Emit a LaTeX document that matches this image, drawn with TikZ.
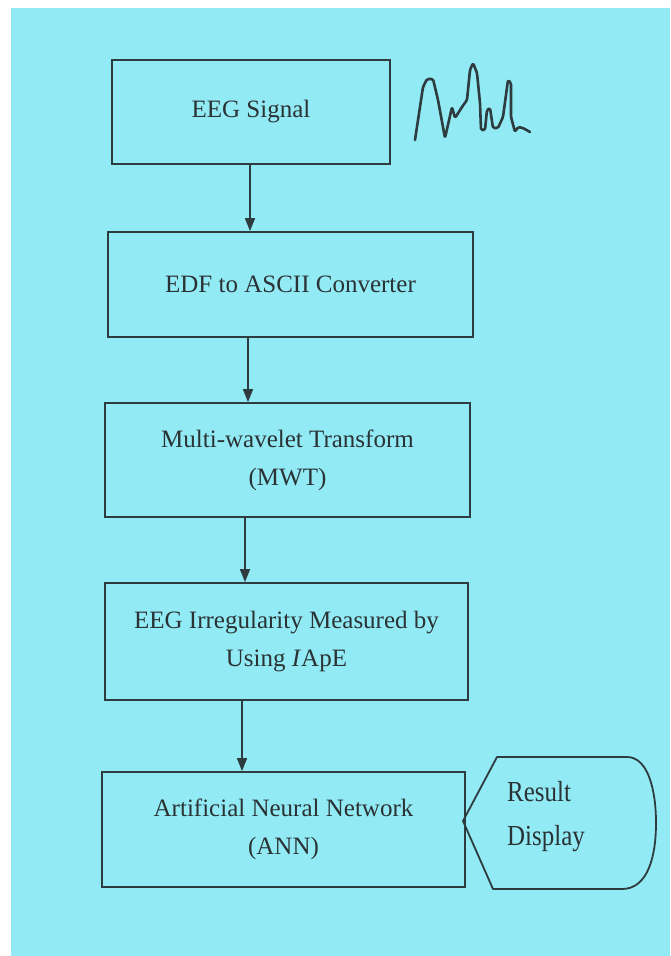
\documentclass[tikz,border=0pt]{standalone}
\usepackage{fontspec}
\setmainfont{Liberation Serif}
\usetikzlibrary{arrows.meta}
\definecolor{paper}{HTML}{92EAF5}
\definecolor{ink}{HTML}{2E3C40}
\definecolor{textink}{HTML}{2A3234}
\begin{document}
\begin{tikzpicture}[x=1pt,y=-1pt,
  stepbox/.style={draw=ink,line width=1.8pt,rectangle,inner sep=0pt,align=center,
    text=textink,font=\fontsize{25}{38}\selectfont},
  flow/.style={draw=ink,line width=1.6pt,-{Triangle[length=13pt,width=10pt]}},
  wave/.style={draw=ink,line width=2.6pt,line join=round,line cap=round,rounded corners=1.5pt}]
  % page with white scan margins on top and left
  \useasboundingbox (0,0) rectangle (670,956);
  \fill[white] (0,0) rectangle (670,956);
  \fill[paper] (11,8) rectangle (670,956);

  % process boxes
  \node[stepbox,minimum width=278pt,minimum height=104pt] (sig) at (251,112) {EEG Signal};
  \node[stepbox,minimum width=365pt,minimum height=105pt] (edf) at (290.5,284.5) {EDF to ASCII Converter};
  \node[stepbox,minimum width=365pt,minimum height=114pt] (mwt) at (287.5,460) {Multi-wavelet Transform\\(MWT)};
  \node[stepbox,minimum width=363pt,minimum height=117pt] (irr) at (286.5,641.5) {EEG Irregularity Measured by\\Using \textit{I}ApE};
  \node[stepbox,minimum width=363pt,minimum height=115pt] (ann) at (283.5,829.5) {Artificial Neural Network\\(ANN)};

  % x positions of the arrows
  \coordinate (a1) at (250,0);
  \coordinate (a2) at (248,0);
  \coordinate (a3) at (245,0);
  \coordinate (a4) at (242,0);
  \draw[flow] (sig.south -| a1) -- (edf.north -| a1);
  \draw[flow] (edf.south -| a2) -- (mwt.north -| a2);
  \draw[flow] (mwt.south -| a3) -- (irr.north -| a3);
  \draw[flow] (irr.south -| a4) -- (ann.north -| a4);

  % display symbol
  \draw[ink,line width=1.8pt,line join=round]
    (463,821) -- (497,757) -- (627,757)
    .. controls (648,757) and (656,790) .. (656,823)
    .. controls (656,856) and (648,889) .. (622,889)
    -- (493,889) -- cycle;
  \node[anchor=west,align=left,text=textink,inner sep=0pt,
    font=\fontsize{29}{44}\selectfont] (res) at (507,817)
    {\scalebox{0.86}[1]{Result}\\\scalebox{0.86}[1]{Display}};

  % hand-drawn EEG trace
  \draw[wave] (415,140) -- (423,87) -- (427,79) -- (433,79) -- (438,100)
    -- (445,138) -- (452,107) -- (455,118) -- (462,107) -- (467,100)
    -- (470,70) -- (473,63) -- (477,73) -- (480,103) -- (481,130)
    -- (485,130) -- (487,110) -- (490,108) -- (493,128) -- (498,128)
    -- (503,117) -- (508,80) -- (511,83) -- (511,117) -- (515,132)
    -- (518,127) -- (523,128) -- (530,132);
\end{tikzpicture}
\end{document}
